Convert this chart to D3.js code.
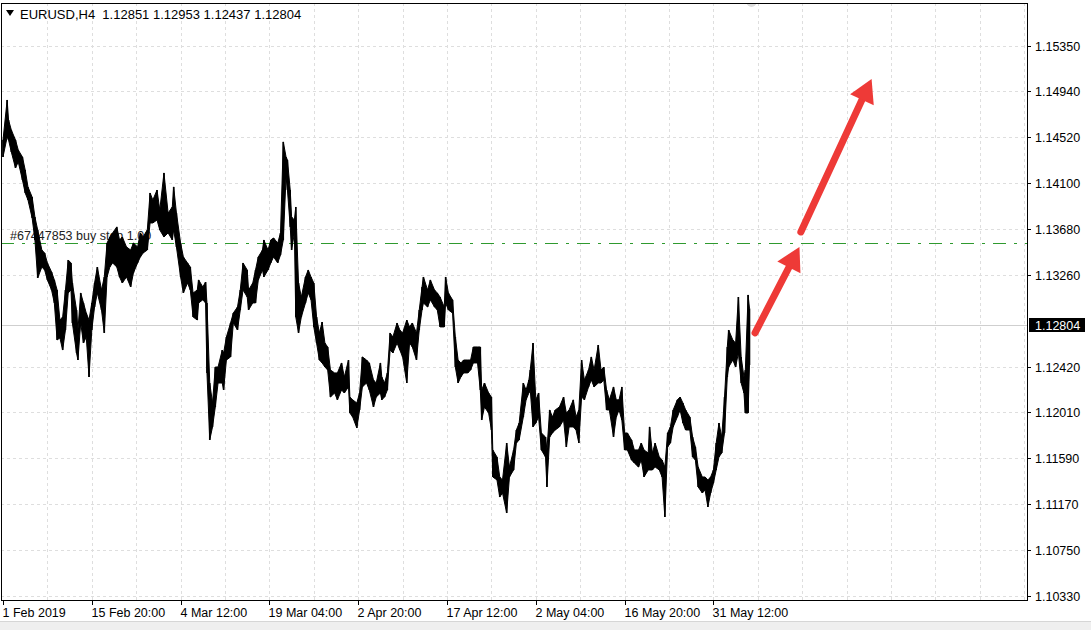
<!DOCTYPE html>
<html>
<head>
<meta charset="utf-8">
<script src="https://cdn.jsdelivr.net/npm/d3@7"></script>
<style>
html, body { margin: 0; padding: 0; background: #fff; }
svg { display: block; font-family: "Liberation Sans", Arial, sans-serif; }
</style>
</head>
<body>
<svg id="chart" width="1091" height="630"></svg>
<script>
// header
const symbol = "EURUSD,H4";
const ohlc = [1.12851, 1.12953, 1.12437, 1.12804];

// H4 bars (bar index from 1 Feb 2019 00:00, high, low)
const barIdx = [0,3,4,6,9,11,14,16,18,21,23,25,28,30,32,35,37,39,41,43,45,47,49,50,53,54,56,58,60,62,64,66,68,71,73,75,77,79,82,84,86,89,92,94,97,99,101,104,106,108,111,113,116,119,122,123,125,128,130,133,135,137,140,141,144,146,147,149,151,153,155,158,159,161,164,166,169,171,173,176,177,180,182,184,187,188,191,193,195,198,200,202,204,205,207,208,210,211,213,215,218,220,222,224,226,228,230,232,234,236,239,241,244,246,249,250,252,255,257,259,262,264,267,269,272,273,275,277,279,281,284,286,288,291,293,295,298,300,302,303,306,308,311,313,315,318,319,321,324,326,328,330,332,335,337,339,342,344,345,347,350,352,353,356,358,360,363,365,368,370,372,375,377,379,380,382,384,386,388,391,392,394,396,398,401,404,406,408,411,413,415,417,419,422,424,426,429,431,433,435,437,440,442,444,446,448,450,453,455,458,460,462,465,466,468,470,473,475,477,479,481,483,486,488,490,492,495,497,499,501,504,506,508,510,512,514,516,518,520,522,523,526,528,530,532,534,535,537,538];
const highs = [1.14492,1.14857,1.14674,1.14583,1.14492,1.14400,1.14337,1.14218,1.14063,1.13971,1.13789,1.13670,1.13487,1.13460,1.13369,1.13287,1.13214,1.13122,1.12848,1.12876,1.13122,1.13396,1.13369,1.13186,1.12940,1.12757,1.13095,1.13004,1.12912,1.12848,1.13004,1.13186,1.13332,1.13122,1.13241,1.13551,1.13606,1.13643,1.13698,1.13579,1.13606,1.13515,1.13487,1.13551,1.13515,1.13643,1.13606,1.13670,1.14008,1.13944,1.14035,1.13853,1.14191,1.13825,1.13880,1.14063,1.13825,1.13551,1.13424,1.13369,1.13332,1.13095,1.13122,1.13214,1.13150,1.13195,1.13004,1.12273,1.12091,1.12419,1.12419,1.12574,1.12547,1.12693,1.12821,1.12912,1.12967,1.13122,1.13369,1.13305,1.13122,1.13186,1.13305,1.13424,1.13487,1.13579,1.13487,1.13579,1.13597,1.13551,1.13643,1.14474,1.14337,1.14309,1.14035,1.13789,1.13761,1.13880,1.13186,1.13058,1.13241,1.13305,1.13241,1.13186,1.12876,1.12730,1.12830,1.12638,1.12602,1.12392,1.12365,1.12365,1.12456,1.12328,1.12483,1.12145,1.12119,1.12091,1.12182,1.12511,1.12483,1.12456,1.12301,1.12273,1.12456,1.12328,1.12273,1.12365,1.12730,1.12693,1.12821,1.12757,1.12730,1.12848,1.12785,1.12821,1.12730,1.12940,1.13150,1.13241,1.13122,1.13214,1.13122,1.13095,1.13058,1.12967,1.13241,1.13095,1.13032,1.12693,1.12483,1.12456,1.12483,1.12483,1.12483,1.12602,1.12602,1.12602,1.12209,1.12273,1.12182,1.12145,1.11662,1.11598,1.11415,1.11388,1.11725,1.11506,1.11662,1.11844,1.11908,1.12273,1.12209,1.12301,1.12392,1.12638,1.12119,1.12182,1.11817,1.11780,1.11662,1.12027,1.11963,1.12027,1.12054,1.12145,1.11999,1.12027,1.12119,1.11963,1.12027,1.12483,1.12301,1.12392,1.12511,1.12392,1.12620,1.12392,1.12419,1.12209,1.12119,1.12237,1.12119,1.12119,1.12237,1.11817,1.11817,1.11753,1.11662,1.11662,1.11725,1.11662,1.11634,1.11872,1.11634,1.11725,1.11598,1.11570,1.11506,1.11817,1.11872,1.12027,1.12119,1.12145,1.12091,1.12027,1.11963,1.11780,1.11689,1.11506,1.11415,1.11415,1.11388,1.11415,1.11479,1.11725,1.11908,1.11780,1.12145,1.12602,1.12757,1.12666,1.12638,1.13058,1.12511,1.12328,1.12392,1.13077,1.12953];
const lows = [1.14337,1.14519,1.14492,1.14382,1.14236,1.14291,1.14127,1.14008,1.13944,1.13780,1.13579,1.13232,1.13332,1.13305,1.13214,1.13122,1.13004,1.12666,1.12684,1.12574,1.12757,1.13095,1.13122,1.12821,1.12547,1.12483,1.12821,1.12638,1.12693,1.12328,1.12757,1.12967,1.13095,1.12940,1.12730,1.13241,1.13332,1.13369,1.13332,1.13241,1.13186,1.13241,1.13150,1.13278,1.13369,1.13424,1.13460,1.13487,1.13734,1.13734,1.13761,1.13670,1.13606,1.13643,1.13579,1.13670,1.13515,1.13241,1.13095,1.13186,1.13122,1.12876,1.12848,1.13004,1.13032,1.13004,1.12365,1.11753,1.11872,1.12054,1.12273,1.12273,1.12209,1.12483,1.12511,1.12821,1.12757,1.12940,1.13122,1.13058,1.12940,1.13004,1.13004,1.13214,1.13305,1.13241,1.13305,1.13369,1.13424,1.13369,1.13442,1.13579,1.14154,1.14035,1.13698,1.13487,1.13643,1.12876,1.12730,1.12876,1.13004,1.13095,1.13032,1.12785,1.12638,1.12483,1.12456,1.12419,1.12392,1.12145,1.12182,1.12119,1.12209,1.12182,1.12237,1.11999,1.11963,1.11862,1.12027,1.12237,1.12273,1.12209,1.12054,1.12145,1.12182,1.12119,1.12145,1.12209,1.12574,1.12547,1.12638,1.12574,1.12511,1.12273,1.12638,1.12602,1.12483,1.12757,1.12940,1.13004,1.12967,1.13032,1.12967,1.12940,1.12785,1.12785,1.13004,1.12940,1.12912,1.12419,1.12273,1.12328,1.12365,1.12365,1.12392,1.12456,1.12456,1.12209,1.11935,1.12054,1.11999,1.11844,1.11415,1.11388,1.11232,1.11269,1.11086,1.11415,1.11479,1.11725,1.11753,1.11963,1.12119,1.12182,1.12209,1.11872,1.11908,1.11963,1.11662,1.11598,1.11324,1.11780,1.11817,1.11844,1.11872,1.11935,1.11689,1.11872,1.11872,1.11844,1.11725,1.12145,1.12119,1.12237,1.12301,1.12237,1.12273,1.12273,1.12301,1.12027,1.12027,1.11780,1.11963,1.12027,1.11935,1.11662,1.11662,1.11570,1.11543,1.11506,1.11570,1.11415,1.11479,1.11479,1.11479,1.11506,1.11479,1.11415,1.11050,1.11689,1.11725,1.11872,1.11963,1.12027,1.11908,1.11844,1.11844,1.11598,1.11570,1.11324,1.11269,1.11296,1.11141,1.11269,1.11360,1.11479,1.11598,1.11634,1.11817,1.12328,1.12419,1.12483,1.12419,1.12547,1.12273,1.12182,1.11999,1.11999,1.12437];

// axes
const timeTickIdx = [0, 64, 128, 192, 256, 320, 384, 448, 512];
const timeLabels = ["1 Feb 2019", "15 Feb 20:00", "4 Mar 12:00", "19 Mar 04:00", "2 Apr 20:00",
                    "17 Apr 12:00", "2 May 04:00", "16 May 20:00", "31 May 12:00"];
const priceTicks = [1.10330, 1.10750, 1.11170, 1.11590, 1.12010, 1.12420,
                    1.13260, 1.13680, 1.14100, 1.14520, 1.14940, 1.15350];

// lines and drawn objects
const bidPrice = 1.12804;
const orderLabel = "#67447853 buy stop 1.00";
const orderPrice = 1.13551;
const arrowFrom = [[542, 1.12730], [575, 1.13652]];
const arrowTo   = [[574, 1.13515], [626, 1.15049]];

var svg = d3.select("#chart");
var plotL = 1, plotR = 1027, plotT = 3, plotB = 600;

var x = d3.scaleLinear().domain([0, 738]).range([3, 1027]);
var y = d3.scaleLinear().domain([1.10292, 1.15733]).range([600, 4]);

svg.append("defs").append("clipPath").attr("id", "plot")
  .append("rect").attr("x", plotL).attr("y", plotT)
  .attr("width", plotR - plotL).attr("height", plotB - plotT);

// grid
var grid = svg.append("g").attr("stroke", "#dedede").attr("stroke-dasharray", "3,3");
priceTicks.forEach(function(p) {
  grid.append("line").attr("x1", plotL).attr("x2", plotR)
    .attr("y1", Math.round(y(p)) + 0.5).attr("y2", Math.round(y(p)) + 0.5);
});
d3.range(32, 738, 32).forEach(function(i) {
  grid.append("line").attr("y1", plotT).attr("y2", plotB)
    .attr("x1", Math.round(x(i)) + 0.5).attr("x2", Math.round(x(i)) + 0.5);
});

// bid line
svg.append("line").attr("x1", plotL).attr("x2", plotR)
  .attr("y1", Math.round(y(bidPrice)) + 0.5).attr("y2", Math.round(y(bidPrice)) + 0.5)
  .attr("stroke", "#cfcfcf");

// pending order line
svg.append("line").attr("x1", plotL).attr("x2", plotR)
  .attr("y1", Math.round(y(orderPrice)) + 0.5).attr("y2", Math.round(y(orderPrice)) + 0.5)
  .attr("stroke", "#2f9a2f").attr("stroke-width", 1.2).attr("stroke-dasharray", "13,8,3,8");
svg.append("text").attr("x", 10).attr("y", y(orderPrice) - 3)
  .attr("font-size", "12.5px").attr("fill", "#222").text(orderLabel);

// bars
var data = barIdx.map(function(d, i) { return {i: d, h: highs[i], l: lows[i]}; });
var bars = svg.append("g").attr("clip-path", "url(#plot)");
var area = d3.area()
  .x(function(d) { return x(d.i); })
  .y0(function(d) { return y(d.l); })
  .y1(function(d) { return y(d.h); });
bars.append("path").attr("d", area(data)).attr("fill", "#000")
  .attr("stroke", "#000").attr("stroke-width", 1);
bars.selectAll("line.bar").data(data).enter().append("line")
  .attr("class", "bar")
  .attr("x1", function(d) { return x(d.i); })
  .attr("x2", function(d) { return x(d.i); })
  .attr("y1", function(d) { return y(d.h); })
  .attr("y2", function(d) { return y(d.l); })
  .attr("stroke", "#000").attr("stroke-width", 1.6);

// chart shift marker
bars.append("circle").attr("cx", x(barIdx[barIdx.length - 1]) + 2).attr("cy", 2)
  .attr("r", 5).attr("fill", "#dcdcdc");

// red arrows
var arrowsG = svg.append("g").attr("clip-path", "url(#plot)");
arrowFrom.forEach(function(f, k) {
  var t = arrowTo[k];
  var x0 = x(f[0]), y0 = y(f[1]), x1 = x(t[0]), y1 = y(t[1]);
  var len = Math.hypot(x1 - x0, y1 - y0);
  var ux = (x1 - x0) / len, uy = (y1 - y0) / len;
  var headLen = 23, headHalf = 13;
  var bx = x1 - ux * headLen, by = y1 - uy * headLen;
  arrowsG.append("line").attr("x1", x0).attr("y1", y0)
    .attr("x2", bx + ux * 2).attr("y2", by + uy * 2)
    .attr("stroke", "#ee3a37").attr("stroke-width", 7).attr("stroke-linecap", "round");
  arrowsG.append("path")
    .attr("d", "M" + x1 + "," + y1 +
      "L" + (bx - uy * headHalf) + "," + (by + ux * headHalf) +
      "L" + (bx + uy * headHalf) + "," + (by - ux * headHalf) + "Z")
    .attr("fill", "#ee3a37");
});

// frame
svg.append("rect").attr("x", plotL + 0.5).attr("y", plotT + 0.5)
  .attr("width", plotR - plotL).attr("height", plotB - plotT)
  .attr("fill", "none").attr("stroke", "#000");

// right price axis
var yAxis = svg.append("g");
priceTicks.forEach(function(p) {
  var yy = Math.round(y(p)) + 0.5;
  yAxis.append("line").attr("x1", plotR).attr("x2", plotR + 4)
    .attr("y1", yy).attr("y2", yy).attr("stroke", "#000");
  yAxis.append("text").attr("x", 1035).attr("y", yy + 4.5)
    .attr("font-size", "12.5px").attr("fill", "#000").text(p.toFixed(5));
});

// bid price box
var by0 = Math.round(y(bidPrice));
svg.append("rect").attr("x", 1029).attr("y", by0 - 7).attr("width", 56).attr("height", 14)
  .attr("fill", "#000");
svg.append("text").attr("x", 1035).attr("y", by0 + 4.5)
  .attr("font-size", "12.5px").attr("fill", "#fff").text(bidPrice.toFixed(5));

// bottom time axis
var xAxis = svg.append("g");
timeTickIdx.forEach(function(i, k) {
  var xx = Math.round(x(i)) + 0.5;
  xAxis.append("line").attr("x1", xx).attr("x2", xx)
    .attr("y1", plotB).attr("y2", plotB + 5).attr("stroke", "#000");
  xAxis.append("text").attr("x", xx - 1).attr("y", 617)
    .attr("font-size", "12.5px").attr("fill", "#000").text(timeLabels[k]);
});

// header
svg.append("path").attr("d", "M6,10L14,10L10,16Z").attr("fill", "#000");
svg.append("text").attr("x", 20).attr("y", 18.5).attr("font-size", "13px")
  .attr("fill", "#000").style("white-space", "pre")
  .text(symbol + "  " + ohlc.map(function(v) { return v.toFixed(5); }).join(" "));

// window status strip
svg.append("rect").attr("x", 0).attr("y", 622).attr("width", 1091).attr("height", 8)
  .attr("fill", "#efefef");
svg.append("line").attr("x1", 0).attr("x2", 1091).attr("y1", 621.5).attr("y2", 621.5)
  .attr("stroke", "#d6d6d6");
</script>
</body>
</html>
